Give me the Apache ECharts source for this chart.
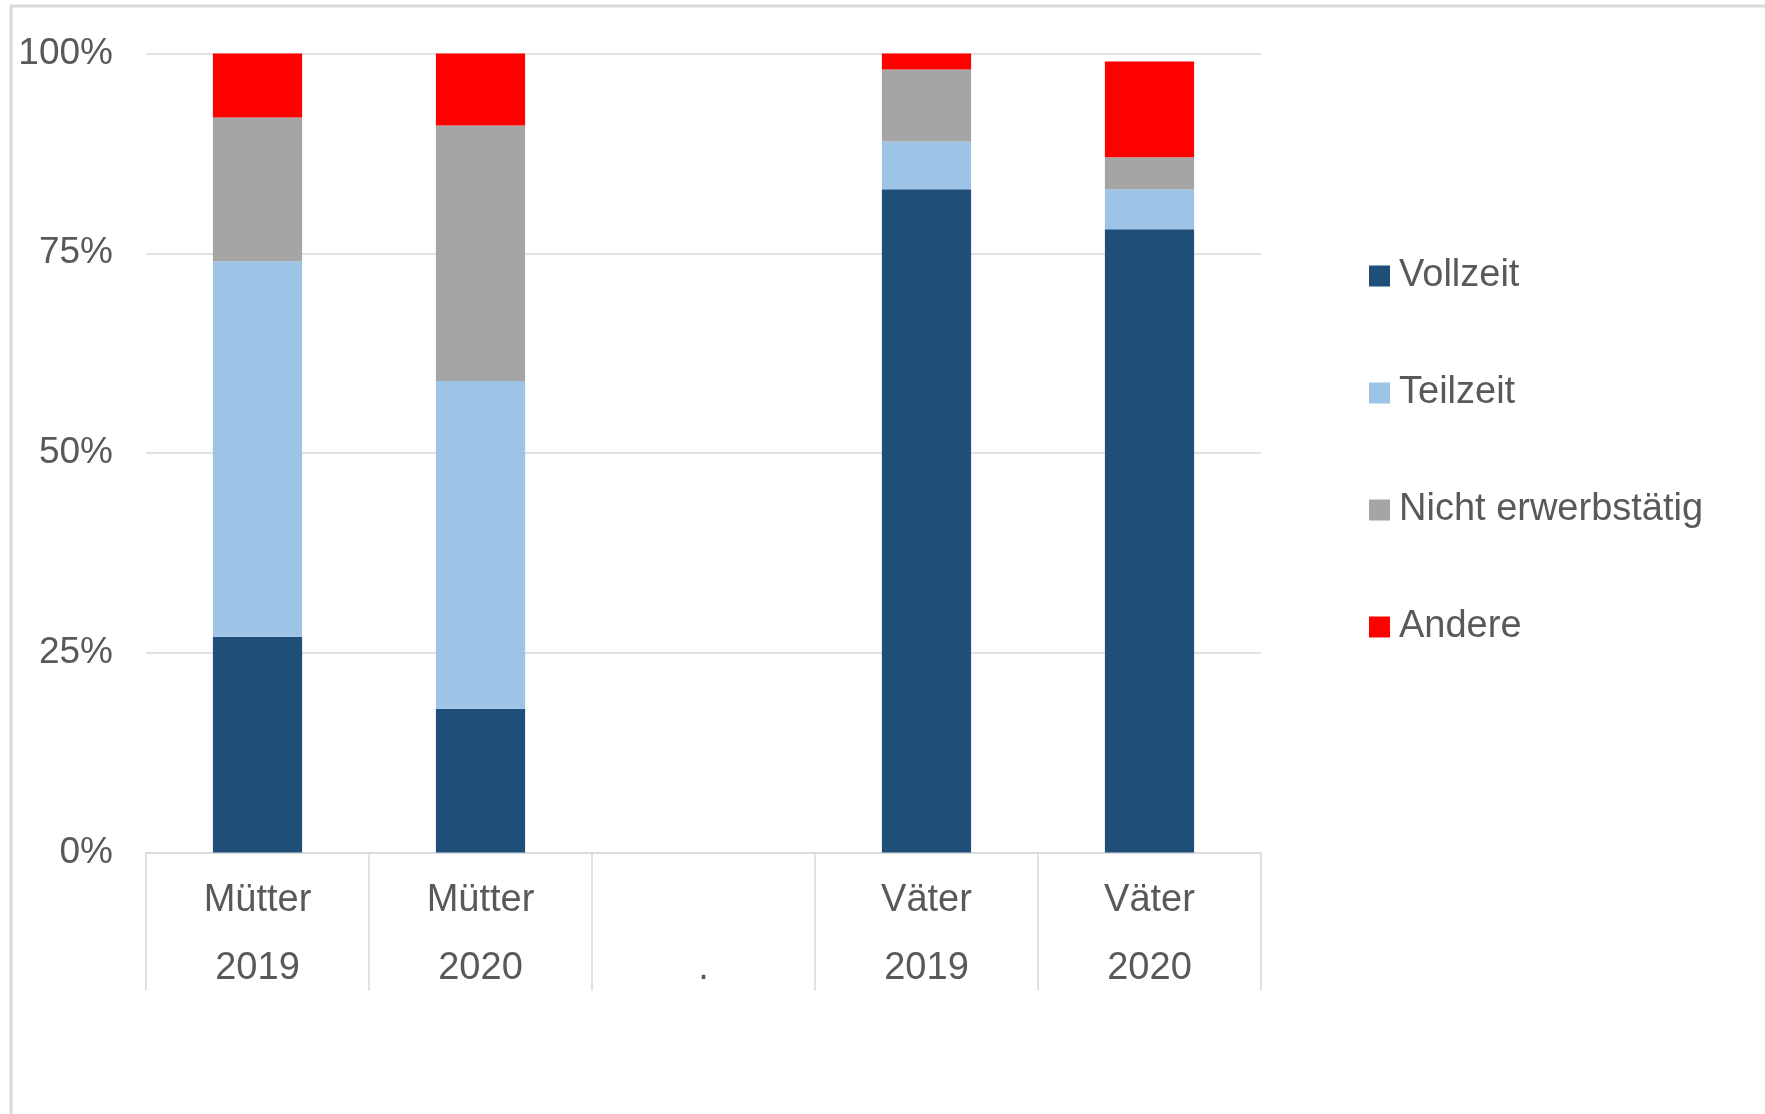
<!DOCTYPE html>
<html>
<head>
<meta charset="utf-8">
<script src="https://cdn.jsdelivr.net/npm/echarts@6/dist/echarts.min.js"></script>
<style>
html,body{margin:0;padding:0;background:#fff;}
#c{width:1765px;height:1114px;}
</style>
</head>
<body>
<div id="c"></div>
<script>
const categories = ['Mütter\n2019', 'Mütter\n2020', '\n.', 'Väter\n2019', 'Väter\n2020'];
const vollzeit = [27, 18, null, 83, 78];
const teilzeit = [47, 41, null, 6, 5];
const nichtErwerbstaetig = [18, 32, null, 9, 4];
const andere = [8, 9, null, 2, 12];
const seriesNames = ['Vollzeit', 'Teilzeit', 'Nicht erwerbstätig', 'Andere'];
const colors = ['#1F4E79', '#9DC3E6', '#A5A5A5', '#FF0000'];

const font = '"Liberation Sans", Arial, sans-serif';
const chart = echarts.init(document.getElementById('c'));
const dataSets = [vollzeit, teilzeit, nichtErwerbstaetig, andere];

chart.setOption({
  animation: false,
  backgroundColor: '#ffffff',
  graphic: [{
    type: 'rect',
    shape: { x: 11, y: 6, width: 1800, height: 1200 },
    style: { fill: 'none', stroke: '#d9d9d9', lineWidth: 3 },
    silent: true, z: -1
  }],
  grid: { left: 146, right: 504, top: 53.5, bottom: 261.5 },
  legend: {
    orient: 'vertical',
    left: 1364,
    top: 252,
    itemWidth: 21,
    itemHeight: 21,
    itemGap: 79,
    icon: 'rect',
    data: seriesNames,
    textStyle: { fontFamily: font, fontSize: 38, color: '#595959', padding: [0, 0, 0, 4] }
  },
  xAxis: {
    type: 'category',
    data: categories,
    axisLine: { show: true, lineStyle: { color: '#d9d9d9', width: 1.5 } },
    axisTick: { show: true, length: 138, alignWithLabel: false, lineStyle: { color: '#d9d9d9', width: 1.5 } },
    axisLabel: { fontFamily: font, fontSize: 38, color: '#595959', lineHeight: 68, margin: 14 }
  },
  yAxis: {
    type: 'value',
    min: 0, max: 100, interval: 25,
    axisLine: { show: false },
    axisTick: { show: false },
    splitLine: { lineStyle: { color: '#d9d9d9', width: 1.5 } },
    axisLabel: { formatter: '{value}%', fontFamily: font, fontSize: 37, color: '#595959', margin: 33, padding: [5, 0, 0, 0] }
  },
  series: seriesNames.map((n, i) => ({
    name: n,
    type: 'bar',
    stack: 'total',
    barWidth: '40%',
    data: dataSets[i],
    itemStyle: { color: colors[i] }
  }))
});
</script>
</body>
</html>
